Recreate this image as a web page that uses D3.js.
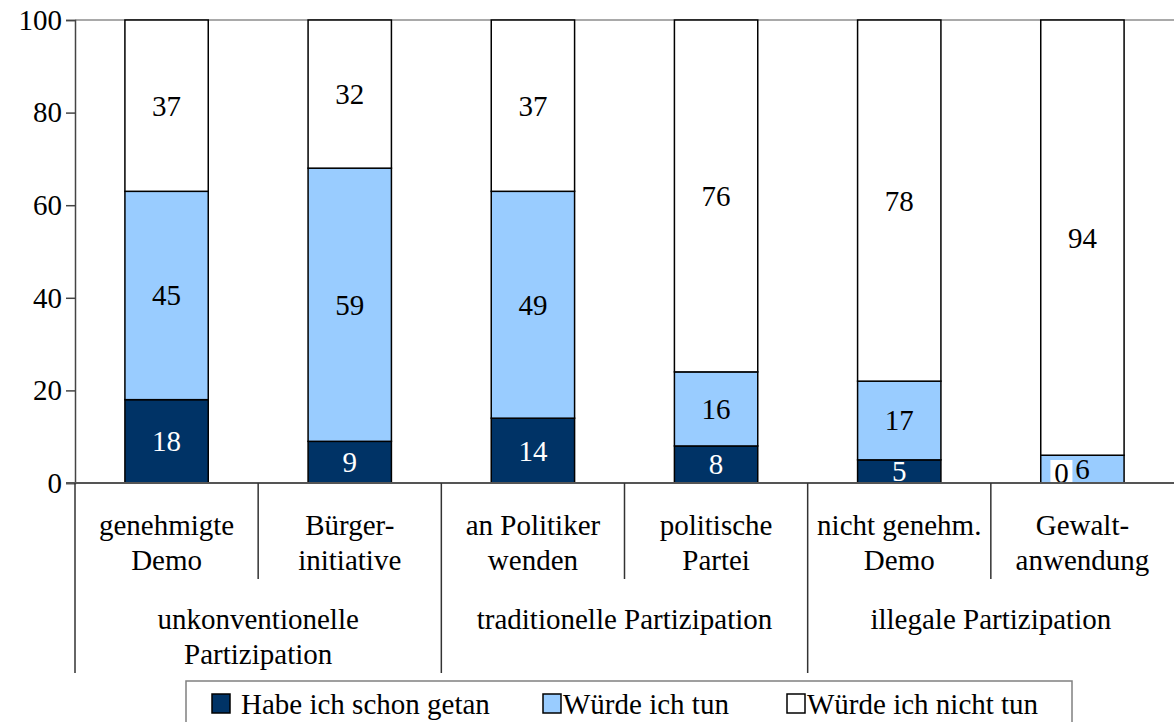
<!DOCTYPE html>
<html>
<head>
<meta charset="utf-8">
<script src="https://cdn.jsdelivr.net/npm/d3@7"></script>
<style>
  html, body { margin: 0; padding: 0; background: #fff; }
</style>
</head>
<body>
<svg id="chart" width="1174" height="722"></svg>
<script>
// Categories (two-line labels) and their groups
const categories = ["genehmigte Demo", "Bürgerinitiative", "an Politiker wenden", "politische Partei", "nicht genehm. Demo", "Gewaltanwendung"];
const categoryLines = [["genehmigte", "Demo"], ["Bürger-", "initiative"], ["an Politiker", "wenden"], ["politische", "Partei"], ["nicht genehm.", "Demo"], ["Gewalt-", "anwendung"]];
const groups = [
  { lines: ["unkonventionelle", "Partizipation"], from: 0, to: 1 },
  { lines: ["traditionelle Partizipation"], from: 2, to: 3 },
  { lines: ["illegale Partizipation"], from: 4, to: 5 }
];

// Series values (percent)
const seriesNames = ["Habe ich schon getan", "Würde ich tun", "Würde ich nicht tun"];
const habeGetan = [18, 9, 14, 8, 5, 0];
const wuerdeTun = [45, 59, 49, 16, 17, 6];
const wuerdeNicht = [37, 32, 37, 76, 78, 94];
const yTicks = [0, 20, 40, 60, 80, 100];

const colors = ["#003366", "#99CCFF", "#FFFFFF"];
const labelColors = ["#FFFFFF", "#000000", "#000000"];

const FONT = "'Liberation Serif', 'Times New Roman', Tinos, 'DejaVu Serif', serif";
const fontSize = 29;

const svg = d3.select("#chart").attr("font-family", FONT);

const plotLeft = 75, plotRight = 1174, plotTop = 20, plotBottom = 483;

const x = d3.scaleBand().domain(categories).range([plotLeft, plotRight])
  .paddingInner(0.545).paddingOuter(0.2725);
const y = d3.scaleLinear().domain([0, 100]).range([plotBottom, plotTop]);

const rows = categories.map((c, i) => ({
  cat: c,
  [seriesNames[0]]: habeGetan[i],
  [seriesNames[1]]: wuerdeTun[i],
  [seriesNames[2]]: wuerdeNicht[i]
}));
const stacked = d3.stack().keys(seriesNames)(rows);

function label(sel) {
  return sel.style("font-family", FONT).style("font-size", fontSize + "px");
}

// Plot area top border
svg.append("line")
  .attr("x1", plotLeft).attr("x2", plotRight).attr("y1", plotTop).attr("y2", plotTop)
  .attr("stroke", "#8c8c8c").attr("stroke-width", 1.5);

// Value axis
const yAxis = d3.axisLeft(y).tickValues(yTicks).tickSize(9).tickPadding(4);
const ya = svg.append("g").attr("transform", `translate(${plotLeft},0)`).call(yAxis);
ya.attr("font-family", FONT).attr("font-size", fontSize);
ya.select(".domain").attr("stroke", "#444").attr("stroke-width", 1.5);
ya.selectAll(".tick line").attr("stroke", "#444").attr("stroke-width", 1.5);
label(ya.selectAll(".tick text")).attr("fill", "#000");

// Bars
stacked.forEach((layer, si) => {
  svg.append("g").selectAll("rect").data(layer).join("rect")
    .attr("x", d => x(d.data.cat))
    .attr("width", x.bandwidth())
    .attr("y", d => y(d[1]))
    .attr("height", d => y(d[0]) - y(d[1]))
    .attr("fill", colors[si])
    .attr("stroke", "#000").attr("stroke-width", 1.5);
});

// Value labels
stacked.forEach((layer, si) => {
  layer.forEach(d => {
    const v = d[1] - d[0];
    let cx = x(d.data.cat) + x.bandwidth() / 2;
    let cy = (y(d[0]) + y(d[1])) / 2;
    const g = svg.append("g");
    if (v === 0) {
      // zero-height segment: label nudged aside, on a white plate
      cx -= 21; cy = y(0) - 10;
      g.append("rect").attr("x", cx - 11).attr("y", cy - 13)
        .attr("width", 22).attr("height", 23).attr("fill", "#fff");
    }
    label(g.append("text"))
      .attr("x", cx).attr("y", cy)
      .attr("text-anchor", "middle").attr("dominant-baseline", "central")
      .attr("fill", v === 0 ? "#000" : labelColors[si])
      .text(v);
  });
});

// Category axis line
svg.append("line")
  .attr("x1", plotLeft - 9).attr("x2", plotRight).attr("y1", plotBottom).attr("y2", plotBottom)
  .attr("stroke", "#555").attr("stroke-width", 2);

const step = x.step();
const catEdge = i => plotLeft + i * step;

// Separators between categories inside a group
categories.forEach((c, i) => {
  if (i > 0 && !groups.some(gr => gr.from === i)) {
    svg.append("line")
      .attr("x1", catEdge(i)).attr("x2", catEdge(i))
      .attr("y1", plotBottom).attr("y2", 579)
      .attr("stroke", "#333").attr("stroke-width", 1.5);
  }
});
// Group separators
groups.forEach(gr => {
  svg.append("line")
    .attr("x1", catEdge(gr.from)).attr("x2", catEdge(gr.from))
    .attr("y1", plotBottom).attr("y2", 673)
    .attr("stroke", "#333").attr("stroke-width", 1.5);
});

// Category labels
categoryLines.forEach((lines, i) => {
  const cx = catEdge(i) + step / 2;
  lines.forEach((t, k) => {
    label(svg.append("text")).attr("x", cx).attr("y", 535 + k * 35)
      .attr("text-anchor", "middle").text(t);
  });
});

// Group labels
groups.forEach(gr => {
  const cx = (catEdge(gr.from) + catEdge(gr.to + 1)) / 2;
  gr.lines.forEach((t, k) => {
    label(svg.append("text")).attr("x", cx).attr("y", 629 + k * 35)
      .attr("text-anchor", "middle").text(t);
  });
});

// Legend
const legend = svg.append("g");
legend.append("rect").attr("x", 186).attr("y", 681).attr("width", 886).attr("height", 60)
  .attr("fill", "#fff").attr("stroke", "#808080").attr("stroke-width", 1.5);
const legendX = [212, 543, 787];
seriesNames.forEach((name, i) => {
  legend.append("rect").attr("x", legendX[i]).attr("y", 694).attr("width", 18).attr("height", 19)
    .attr("fill", colors[i]).attr("stroke", "#000").attr("stroke-width", 1.5);
  label(legend.append("text")).attr("x", legendX[i] + (i === 0 ? 29 : 20)).attr("y", 714)
    .text(name);
});
</script>
</body>
</html>
